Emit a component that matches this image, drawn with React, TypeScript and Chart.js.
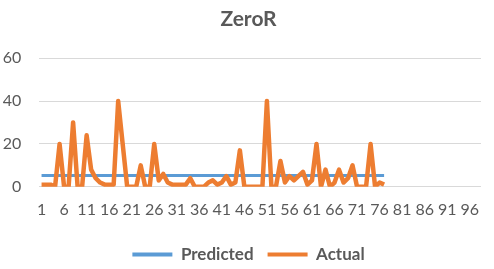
import React, { useEffect, useRef } from "react";
import { Chart, registerables } from "chart.js";

Chart.register(...registerables);

const categories = [
  "1", "2", "3", "4", "5", "6", "7", "8", "9", "10",
  "11", "12", "13", "14", "15", "16", "17", "18", "19", "20",
  "21", "22", "23", "24", "25", "26", "27", "28", "29", "30",
  "31", "32", "33", "34", "35", "36", "37", "38", "39", "40",
  "41", "42", "43", "44", "45", "46", "47", "48", "49", "50",
  "51", "52", "53", "54", "55", "56", "57", "58", "59", "60",
  "61", "62", "63", "64", "65", "66", "67", "68", "69", "70",
  "71", "72", "73", "74", "75", "76", "77", "78", "79", "80",
  "81", "82", "83", "84", "85", "86", "87", "88", "89", "90",
  "91", "92", "93", "94", "95", "96", "97", "98",
];

const tickLabels = [
  "1", "6", "11", "16", "21", "26", "31", "36", "41", "46",
  "51", "56", "61", "66", "71", "76", "81", "86", "91", "96",
];

const actual = [
  1, 1, 1, 0, 20, 0, 0, 30, 0, 0,
  24, 8, 4, 2, 1, 1, 1, 40, 20, 0,
  0, 0, 10, 0, 0, 20, 3, 6, 2, 1,
  1, 1, 1, 4, 0, 0, 0, 2, 3, 1,
  2, 5, 1, 2, 17, 0, 0, 0, 0, 0,
  40, 0, 0, 12, 2, 5, 3, 5, 7, 1,
  3, 20, 0, 8, 0, 2, 8, 2, 4, 10,
  0, 0, 0, 20, 0, 2, 1,
];

const predicted = [
  5.3, 5.3, 5.3, 5.3, 5.3, 5.3, 5.3, 5.3, 5.3, 5.3,
  5.3, 5.3, 5.3, 5.3, 5.3, 5.3, 5.3, 5.3, 5.3, 5.3,
  5.3, 5.3, 5.3, 5.3, 5.3, 5.3, 5.3, 5.3, 5.3, 5.3,
  5.3, 5.3, 5.3, 5.3, 5.3, 5.3, 5.3, 5.3, 5.3, 5.3,
  5.3, 5.3, 5.3, 5.3, 5.3, 5.3, 5.3, 5.3, 5.3, 5.3,
  5.3, 5.3, 5.3, 5.3, 5.3, 5.3, 5.3, 5.3, 5.3, 5.3,
  5.3, 5.3, 5.3, 5.3, 5.3, 5.3, 5.3, 5.3, 5.3, 5.3,
  5.3, 5.3, 5.3, 5.3, 5.3, 5.3, 5.3,
];

const TEXT = "#595959";
const FONT = "Lato";

export default function App() {
  const ref = useRef<HTMLCanvasElement>(null);

  useEffect(() => {
    document.body.style.margin = "0";
    const canvas = ref.current;
    if (!canvas) return;
    const chart = new Chart(canvas, {
      type: "line",
      data: {
        labels: categories,
        datasets: [
          {
            label: "Predicted",
            data: predicted,
            borderColor: "#5B9BD5",
            backgroundColor: "#5B9BD5",
            borderWidth: 3,
            pointRadius: 0,
            tension: 0,
            order: 1,
          },
          {
            label: "Actual",
            data: actual,
            borderColor: "#ED7D31",
            backgroundColor: "#ED7D31",
            borderWidth: 4.5,
            borderJoinStyle: "round",
            pointRadius: 0,
            tension: 0,
            order: 0,
          },
        ],
      },
      options: {
        responsive: false,
        animation: false,
        layout: { padding: { left: 0, right: -3, top: 0, bottom: -4 } },
        plugins: {
          title: {
            display: true,
            text: "ZeroR",
            color: TEXT,
            font: { family: FONT, size: 21, weight: "bold" },
            padding: { top: 7, bottom: 26 },
          },
          legend: {
            position: "bottom",
            labels: {
              boxWidth: 40,
              boxHeight: 4,
              padding: 14,
              color: TEXT,
              font: { family: FONT, size: 17, weight: "bold" },
              generateLabels: (c: any) =>
                c.data.datasets.map((ds: any, i: number) => ({
                  text: ds.label,
                  fillStyle: ds.borderColor,
                  strokeStyle: ds.borderColor,
                  lineWidth: 0,
                  hidden: false,
                  datasetIndex: i,
                  fontColor: TEXT,
                })),
            },
          },
          tooltip: { enabled: false },
        },
        scales: {
          x: {
            offset: true,
            grid: { display: false, drawTicks: false },
            border: { display: false },
            ticks: {
              autoSkip: false,
              maxRotation: 0,
              minRotation: 0,
              padding: 13,
              color: TEXT,
              font: { family: FONT, size: 16 },
              callback: (_v: any, idx: number) => {
                const l = categories[idx];
                return tickLabels.includes(l) ? l : "";
              },
            },
          },
          y: {
            position: "left",
            min: 0,
            max: 60,
            afterFit: (scale: any) => {
              scale.width = 39.3;
            },
            grid: { color: "#D9D9D9", drawTicks: false, lineWidth: 1 },
            border: { display: false },
            ticks: {
              stepSize: 20,
              padding: 18,
              color: TEXT,
              font: { family: FONT, size: 16 },
            },
          },
          yRight: {
            position: "right",
            min: 0,
            max: 60,
            afterFit: (scale: any) => {
              scale.width = 16;
            },
            grid: { display: false, drawTicks: false },
            border: { display: false },
            ticks: { display: false },
          },
        },
      },
    });
    return () => chart.destroy();
  }, []);

  return (
    <canvas
      ref={ref}
      width={494}
      height={269}
      style={{ display: "block", width: 494, height: 269 }}
    />
  );
}
